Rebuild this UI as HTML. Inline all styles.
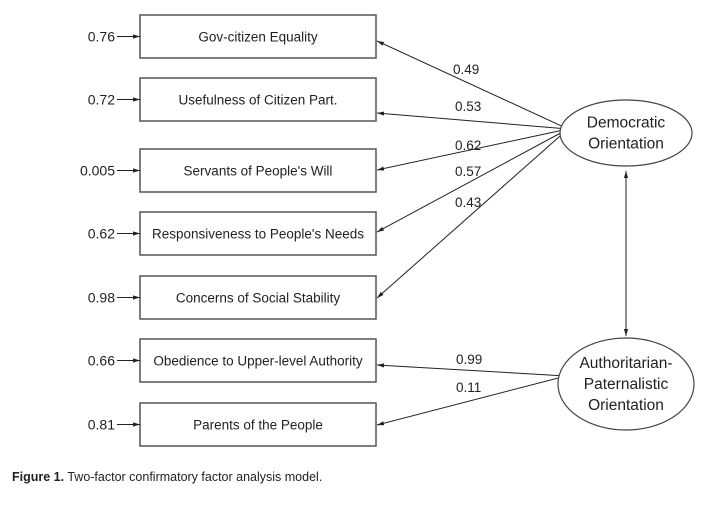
<!DOCTYPE html>
<html><head><meta charset="utf-8"><style>
body{margin:0;background:#fff;width:721px;height:506px;overflow:hidden}
svg{display:block}
text{font-family:"Liberation Sans",sans-serif;fill:#222}
</style></head><body>
<svg id="chart" width="721" height="506" viewBox="0 0 721 506">
<defs>
<marker id="ah" viewBox="0 0 10 10" refX="10" refY="5" markerWidth="7" markerHeight="7" orient="auto-start-reverse"><path d="M0,2 L10,5 L0,8z" fill="#222"/></marker>
</defs>
<g id="g"></g>
<text x="12" y="481" font-size="12.5"><tspan font-weight="bold">Figure 1.</tspan> Two-factor confirmatory factor analysis model.</text>
</svg>
<script>
const indicators=["Gov-citizen Equality","Usefulness of Citizen Part.","Servants of People's Will","Responsiveness to People's Needs","Concerns of Social Stability","Obedience to Upper-level Authority","Parents of the People"];
const residuals=["0.76","0.72","0.005","0.62","0.98","0.66","0.81"];
const loadings=["0.49","0.53","0.62","0.57","0.43","0.99","0.11"];
const factorOf=[0,0,0,0,0,1,1];
const factors=["Democratic|Orientation","Authoritarian-|Paternalistic|Orientation"];

const NS="http://www.w3.org/2000/svg",g=document.getElementById('g');
function mk(t,a,txt){const e=document.createElementNS(NS,t);for(const k in a)e.setAttribute(k,a[k]);if(txt!=null)e.textContent=txt;g.appendChild(e);return e;}
const boxTops=[15,78,149,212,276,339,403],bx=140,bw=236,bh=43;
const fc=[{x:626,y:133,rx:66,ry:33},{x:626,y:384,rx:68,ry:46}];
const endY=[41,113,170,232,298,365,425];
const labPos=[[453,74],[455,111],[455,150],[455,176],[455,207],[456,364],[456,392]];
indicators.forEach((s,i)=>{
  const y=boxTops[i];
  let r=mk('rect',{x:bx,y:y,width:bw,height:bh,fill:'#fff',stroke:'#555','stroke-width':1.5});
  
  let t=mk('text',{x:bx+bw/2,y:y+bh/2+5,'text-anchor':'middle','font-size':13.5},s);
  
  let rt=mk('text',{x:115,y:y+bh/2+5,'text-anchor':'end','font-size':14},residuals[i]);
  
  let ra=mk('line',{x1:117,y1:y+bh/2,x2:bx,y2:y+bh/2,stroke:'#222','stroke-width':1,'marker-end':'url(#ah)'});
  
  const f=fc[factorOf[i]];
  let l=mk('line',{x1:f.x-f.rx+8,y1:f.y-4-(factorOf[i]?4:0),x2:bx+bw+1,y2:endY[i],stroke:'#222','stroke-width':1,'marker-end':'url(#ah)'});
  
  let lt=mk('text',{x:labPos[i][0],y:labPos[i][1],'font-size':13.5},loadings[i]);
  
});
factors.forEach((s,i)=>{
  const f=fc[i];
  let e=mk('ellipse',{cx:f.x,cy:f.y,rx:f.rx,ry:f.ry,fill:'#fff',stroke:'#444','stroke-width':1.2});
  
  const lines=s.split('|');
  lines.forEach((ln,j)=>{
    let t=mk('text',{x:f.x,y:f.y+5+(j-(lines.length-1)/2)*21,'text-anchor':'middle','font-size':15.5},ln);
    
  });
});
let c=mk('line',{x1:626,y1:171,x2:626,y2:336,stroke:'#222','stroke-width':1,'marker-start':'url(#ah)','marker-end':'url(#ah)'});

</script>
</body></html>
